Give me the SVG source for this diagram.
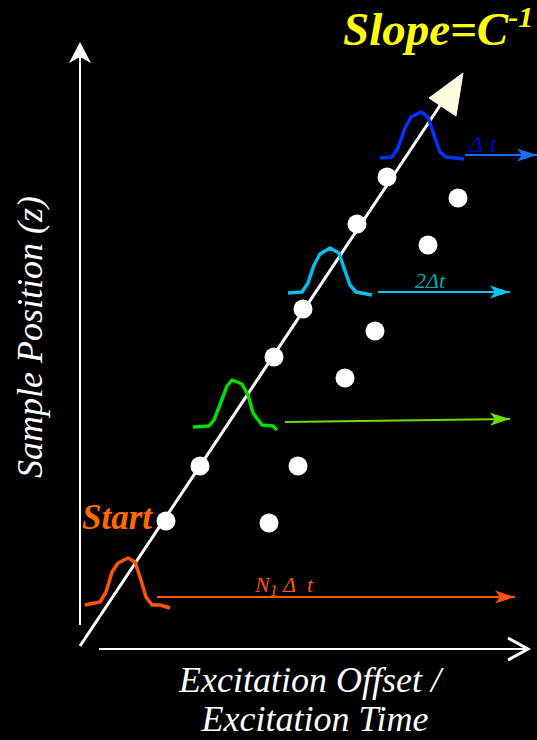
<svg xmlns="http://www.w3.org/2000/svg" width="537" height="740" viewBox="0 0 537 740">
<style>
.pulse{fill:none;stroke-width:3.5;stroke-linejoin:round;stroke-linecap:butt}
.dot{fill:#fff}
.arr{fill:none;stroke-width:2}
</style>
<defs>
<marker id="mBlue" markerUnits="userSpaceOnUse" markerWidth="22" markerHeight="16" refX="20" refY="7" orient="auto" viewBox="0 0 22 14"><path d="M0,0.5 L20,7 L0,13.5 L5,7 Z" fill="#1a6bff"/></marker>
<marker id="mCyan" markerUnits="userSpaceOnUse" markerWidth="22" markerHeight="16" refX="20" refY="7" orient="auto" viewBox="0 0 22 14"><path d="M0,0.5 L20,7 L0,13.5 L5,7 Z" fill="#00c8f0"/></marker>
<marker id="mGreen" markerUnits="userSpaceOnUse" markerWidth="22" markerHeight="16" refX="20" refY="7" orient="auto" viewBox="0 0 22 14"><path d="M0,0.5 L20,7 L0,13.5 L5,7 Z" fill="#70dd00"/></marker>
<marker id="mOrange" markerUnits="userSpaceOnUse" markerWidth="22" markerHeight="16" refX="20" refY="7" orient="auto" viewBox="0 0 22 14"><path d="M0,0.5 L20,7 L0,13.5 L5,7 Z" fill="#ff5500"/></marker>
</defs>
<rect width="537" height="740" fill="#000"/>

<g id="axes">
<line x1="80" y1="625" x2="80" y2="57" stroke="#fff" stroke-width="2"/>
<path d="M80,42 L91,63 L80,57 L69,63 Z" fill="#fff"/>
<line x1="99" y1="649" x2="527" y2="649" stroke="#fff" stroke-width="2"/>
<path d="M508,638 L528,649 L508,660" fill="none" stroke="#fff" stroke-width="3"/>
</g>

<g id="slope-line">
<line x1="80" y1="646" x2="441" y2="104" stroke="#fff" stroke-width="3"/>
<path d="M463,73 L456,116 L429,98 Z" fill="#ffffe0" stroke="#fff" stroke-width="1"/>
</g>

<g id="dots">
<circle class="dot" cx="166" cy="521" r="9.5"/>
<circle class="dot" cx="200" cy="466" r="9.5"/>
<circle class="dot" cx="274" cy="357" r="9.5"/>
<circle class="dot" cx="303" cy="309" r="9.5"/>
<circle class="dot" cx="357" cy="224" r="9.5"/>
<circle class="dot" cx="387" cy="177" r="9.5"/>
<circle class="dot" cx="269" cy="523" r="9.5"/>
<circle class="dot" cx="298" cy="466" r="9.5"/>
<circle class="dot" cx="345" cy="378" r="9.5"/>
<circle class="dot" cx="375" cy="331" r="9.5"/>
<circle class="dot" cx="428" cy="245" r="9.5"/>
<circle class="dot" cx="458" cy="198" r="9.5"/>
</g>

<g id="pulse-blue">
<path class="pulse" stroke="#0033ff" d="M380,158 L392,157 L398,148 L405,128 L411,117 L421,112 L428,117 L434,135 L440,152 L446,157 L464,159"/>
</g>
<g id="pulse-cyan">
<path class="pulse" stroke="#00bff0" d="M288,293 L302,292 L308,283 L314,265 L320,254 L330,248 L339,253 L344,268 L350,285 L356,292 L372,295"/>
</g>
<g id="pulse-green">
<path class="pulse" stroke="#00e000" d="M193,427 L209,426 L214,420 L221,402 L227,386 L232,380 L242,384 L248,395 L253,413 L262,425 L273,426 L277,430"/>
</g>
<g id="pulse-orange">
<path class="pulse" stroke="#ff5500" d="M85,605 L100,602 L106,592 L112,572 L118,563 L128,558 L135,562 L140,577 L146,597 L152,605 L160,605 L170,608"/>
</g>

<g id="connectors">
<line class="arr" stroke="#1a6bff" x1="465" y1="155" x2="537" y2="155" marker-end="url(#mBlue)"/>
<line class="arr" stroke="#00c8f0" x1="378" y1="292" x2="510" y2="292" marker-end="url(#mCyan)"/>
<line class="arr" stroke="#70dd00" x1="285" y1="422" x2="510" y2="419" marker-end="url(#mGreen)"/>
<line class="arr" stroke="#ff5500" x1="157" y1="597" x2="515" y2="597" marker-end="url(#mOrange)"/>
</g>

<g id="labels" font-family="Liberation Serif" font-style="italic">
<text x="469" y="152" font-size="24" fill="#0000cc">Δ <tspan x="490">t</tspan></text>
<text x="415" y="288" font-size="22" fill="#00a8b0">2Δt</text>
<text x="255" y="592" font-size="22" fill="#ff5500">N<tspan font-size="16" dy="4">1</tspan><tspan x="283" dy="-4">Δ</tspan><tspan x="307">t</tspan></text>
<text x="82" y="529" font-size="35" font-weight="bold" fill="#ff6a00">Start</text>
<text x="343" y="45" font-size="47" font-weight="bold" fill="#ffff00">Slope=C<tspan font-size="30" dy="-18">-1</tspan></text>
<text x="310" y="692" font-size="36" fill="#fff" text-anchor="middle">Excitation Offset /</text>
<text x="315" y="731" font-size="36" fill="#fff" text-anchor="middle">Excitation Time</text>
<text transform="translate(42,337) rotate(-90)" x="0" y="0" font-size="36" fill="#fff" text-anchor="middle">Sample Position (z)</text>
</g>
</svg>
